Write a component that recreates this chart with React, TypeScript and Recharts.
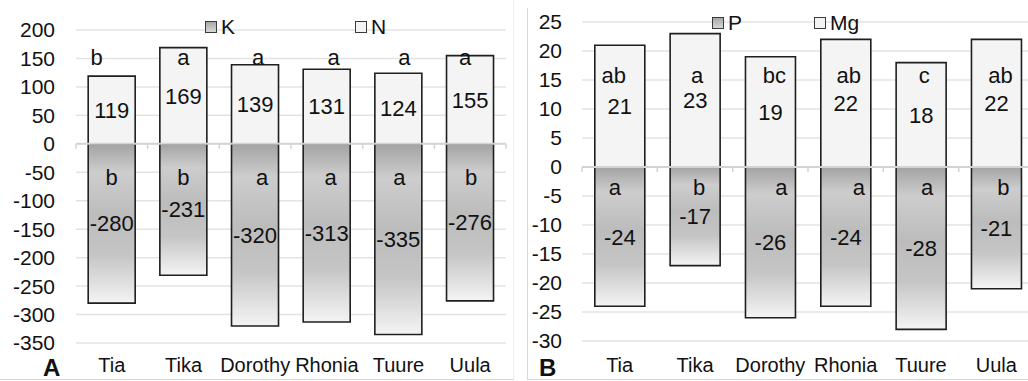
import { BarChart, Bar, XAxis, YAxis, CartesianGrid, ReferenceLine, LabelList, Legend } from "recharts";

const FONT = "'Liberation Sans', Arial, sans-serif";
const INK = "#111";
const EDGE = "#1f1f1f";

// cultivars on the x axis (shared by both panels)
const CULTIVARS = ["Tia", "Tika", "Dorothy", "Rhonia", "Tuure", "Uula"];

// panel A: K (uptake, negative) and N
const K_VALUES = [-280, -231, -320, -313, -335, -276];
const N_VALUES = [119, 169, 139, 131, 124, 155];
const K_LETTERS = ["b", "b", "a", "a", "a", "b"];
const N_LETTERS = ["b", "a", "a", "a", "a", "a"];
const TICKS_A = [200, 150, 100, 50, 0, -50, -100, -150, -200, -250, -300, -350];

// panel B: P (negative) and Mg
const P_VALUES = [-24, -17, -26, -24, -28, -21];
const MG_VALUES = [21, 23, 19, 22, 18, 22];
const P_LETTERS = ["a", "b", "a", "a", "a", "b"];
const MG_LETTERS = ["ab", "a", "bc", "ab", "c", "ab"];
const TICKS_B = [25, 20, 15, 10, 5, 0, -5, -10, -15, -20, -25, -30];

type Panel = {
  id: string;
  tag: string;
  tagLeft: number;
  left: number;
  width: number;
  margin: { top: number; right: number; bottom: number; left: number };
  yTickMargin: number;
  xTickMargin: number;
  domain: [number, number];
  ticks: number[];
  negKey: string;
  posKey: string;
  neg: number[];
  pos: number[];
  negLetters: string[];
  posLetters: string[];
  // letter rows sit at a fixed axis value, nudged sideways per bar
  negAnchor: number;
  posAnchor: number;
  negNudge: number[];
  posNudge: number[];
  legendX: number[];
  legendTop: number;
};

const PANELS: Panel[] = [
  {
    id: "A",
    tag: "A",
    tagLeft: 43,
    left: 0,
    width: 512,
    margin: { top: 30, right: 6, bottom: 8, left: 0 },
    yTickMargin: 21,
    xTickMargin: 15,
    domain: [-350, 200],
    ticks: TICKS_A,
    negKey: "K",
    posKey: "N",
    neg: K_VALUES,
    pos: N_VALUES,
    negLetters: K_LETTERS,
    posLetters: N_LETTERS,
    negAnchor: -72,
    posAnchor: 139,
    negNudge: [0, 0, 7, 4, 1, 1],
    posNudge: [-15, 0, 3, 7, 6, -5],
    legendX: [205, 355],
    legendTop: 21,
  },
  {
    id: "B",
    tag: "B",
    tagLeft: 539,
    left: 506,
    width: 530,
    margin: { top: 22, right: 2, bottom: 10, left: 0 },
    yTickMargin: 20,
    xTickMargin: 17,
    domain: [-30, 25],
    ticks: TICKS_B,
    negKey: "P",
    posKey: "Mg",
    neg: P_VALUES,
    pos: MG_VALUES,
    negLetters: P_LETTERS,
    posLetters: MG_LETTERS,
    negAnchor: -4.8,
    posAnchor: 14.5,
    negNudge: [-5, 4, 11, 13, 6, 7],
    posNudge: [-6, 2, 4, 3, 3, 4],
    legendX: [206, 308],
    legendTop: 17,
  },
];

function boxOf(p: any) {
  const b = p.viewBox && typeof p.viewBox.width === "number" ? p.viewBox : p;
  const x = Number(b.x);
  const y = Number(b.y);
  const w = Number(b.width);
  const h = Number(b.height);
  return { center: x + w / 2, top: Math.min(y, y + h), bottom: Math.max(y, y + h) };
}

const valueLabel = (values: number[]) => (p: any) => {
  const b = boxOf(p);
  return (
    <text x={b.center} y={(b.top + b.bottom) / 2} dy="0.36em" textAnchor="middle" fontSize={22} fill={INK} fontFamily={FONT}>
      {values[p.index]}
    </text>
  );
};

const letterLabel = (values: number[], letters: string[], nudge: number[], anchor: number) => (p: any) => {
  const b = boxOf(p);
  const v = values[p.index];
  const perUnit = (b.bottom - b.top) / Math.abs(v);
  const zero = v >= 0 ? b.bottom : b.top;
  return (
    <text x={b.center + nudge[p.index]} y={zero - anchor * perUnit} textAnchor="middle" fontSize={22} fill={INK} fontFamily={FONT}>
      {letters[p.index]}
    </text>
  );
};

// zero line with small category ticks hanging below it
const zeroAxis = (count: number) => (p: any) => {
  const { x1, y1, x2 } = p;
  const step = (x2 - x1) / count;
  return (
    <g>
      <line x1={x1} y1={y1} x2={x2} y2={y1} stroke="#d3d3d3" strokeWidth={2} />
      {Array.from({ length: count + 1 }, (_, i) => (
        <line key={i} x1={x1 + i * step} x2={x1 + i * step} y1={y1} y2={y1 + 5} stroke="#d3d3d3" strokeWidth={1.5} />
      ))}
    </g>
  );
};

const legendContent = (panel: Panel) => (p: any) => {
  const items = (p.payload ?? []) as any[];
  return (
    <div style={{ position: "relative", width: panel.width, height: 36 }}>
      {items.map((item) => {
        const isNeg = item.dataKey === panel.negKey;
        const x = panel.legendX[isNeg ? 0 : 1];
        return (
          <div key={String(item.dataKey)}>
            <div
              style={{
                position: "absolute",
                left: x,
                top: panel.legendTop,
                width: 10,
                height: 10,
                border: "1px solid #3a3a3a",
                background: isNeg ? "linear-gradient(#a8a8a8, #d6d6d6)" : "#f3f3f3",
              }}
            />
            <span
              style={{
                position: "absolute",
                left: x + 16,
                top: panel.legendTop - 6,
                fontSize: 21,
                lineHeight: "24px",
                color: INK,
                fontFamily: FONT,
              }}
            >
              {item.value}
            </span>
          </div>
        );
      })}
    </div>
  );
};

function NutrientPanel({ panel }: { panel: Panel }) {
  const rows = CULTIVARS.map((name, i) => ({
    name,
    [panel.negKey]: panel.neg[i],
    [panel.posKey]: panel.pos[i],
  }));
  const gradId = `shade${panel.id}`;
  return (
    <div style={{ position: "absolute", left: panel.left, top: 0 }}>
      <BarChart
        width={panel.width}
        height={381}
        data={rows}
        stackOffset="sign"
        barCategoryGap="17%"
        margin={panel.margin}
      >
        <defs>
          <linearGradient id={gradId} x1="0" y1="0" x2="0" y2="1">
            <stop offset="0" stopColor="#a3a3a3" />
            <stop offset="0.18" stopColor="#cdcdcd" />
            <stop offset="0.45" stopColor="#bcbcbc" />
            <stop offset="0.7" stopColor="#c5c5c5" />
            <stop offset="1" stopColor="#f4f4f4" />
          </linearGradient>
        </defs>
        <CartesianGrid vertical={false} stroke="#e3e3e3" strokeWidth={1.5} />
        <XAxis
          dataKey="name"
          axisLine={false}
          tickLine={false}
          tickSize={0}
          tickMargin={panel.xTickMargin}
          height={30}
          interval={0}
          tick={{ fontSize: 20, fill: INK, fontFamily: FONT }}
        />
        <YAxis
          domain={panel.domain}
          ticks={panel.ticks}
          interval={0}
          width={76}
          axisLine={false}
          tickLine={false}
          tickSize={0}
          tickMargin={panel.yTickMargin}
          tick={{ fontSize: 21, fill: INK, fontFamily: FONT }}
        />
        <Legend
          layout="vertical"
          align="center"
          verticalAlign="middle"
          wrapperStyle={{ left: 0, top: 0, width: panel.width, height: 36 }}
          content={legendContent(panel)}
        />
        <Bar dataKey={panel.negKey} stackId="s" fill={`url(#${gradId})`} stroke={EDGE} strokeWidth={1.6} isAnimationActive={false}>
          <LabelList dataKey={panel.negKey} content={valueLabel(panel.neg)} />
          <LabelList dataKey={panel.negKey} content={letterLabel(panel.neg, panel.negLetters, panel.negNudge, panel.negAnchor)} />
        </Bar>
        <Bar dataKey={panel.posKey} stackId="s" fill="#f4f4f4" stroke={EDGE} strokeWidth={1.6} isAnimationActive={false}>
          <LabelList dataKey={panel.posKey} content={valueLabel(panel.pos)} />
          <LabelList dataKey={panel.posKey} content={letterLabel(panel.pos, panel.posLetters, panel.posNudge, panel.posAnchor)} />
        </Bar>
        <ReferenceLine y={0} shape={zeroAxis(CULTIVARS.length)} />
      </BarChart>
    </div>
  );
}

export default function App() {
  return (
    <div
      style={{
        position: "absolute",
        left: 0,
        top: 0,
        width: 1028,
        height: 381,
        overflow: "hidden",
        background: "#fff",
        fontFamily: FONT,
      }}
    >
      {PANELS.map((panel) => (
        <NutrientPanel key={panel.id} panel={panel} />
      ))}
      {/* panel frames */}
      <div style={{ position: "absolute", left: 513, top: 0, width: 1, height: 380, background: "#efefef" }} />
      <div style={{ position: "absolute", left: 527, top: 8, width: 1, height: 372, background: "#d9d9d9" }} />
      <div style={{ position: "absolute", left: 0, top: 379, width: 514, height: 1, background: "#d9d9d9" }} />
      <div style={{ position: "absolute", left: 527, top: 379, width: 501, height: 1, background: "#d9d9d9" }} />
      {PANELS.map((panel) => (
        <div
          key={panel.tag}
          style={{
            position: "absolute",
            left: panel.tagLeft,
            top: 359,
            fontSize: 24,
            lineHeight: "18px",
            fontWeight: "bold",
            color: INK,
          }}
        >
          {panel.tag}
        </div>
      ))}
    </div>
  );
}
